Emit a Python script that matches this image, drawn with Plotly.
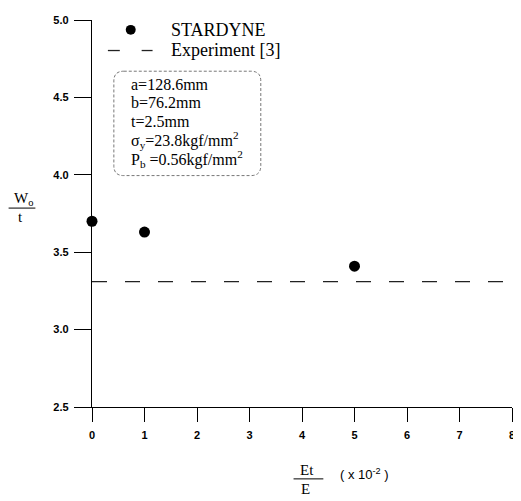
import plotly.graph_objects as go

# ---- data ----
et_e = [0, 1, 5]                 # Et/E (x10^-2)
wo_t = [3.70, 3.63, 3.41]        # STARDYNE W0/t
exp_x = [0, 8]
exp_y = [3.31, 3.31]             # Experiment [3]
x_ticks = [0, 1, 2, 3, 4, 5, 6, 7, 8]
y_ticks = [2.5, 3.0, 3.5, 4.0, 4.5, 5.0]
box_lines = ["a=128.6mm", "b=76.2mm", "t=2.5mm",
             "σ<sub>y</sub>=23.8kgf/mm<sup>2</sup>",
             "P<sub>b</sub> =0.56kgf/mm<sup>2</sup>"]

OFF = 8                      # page body margin
W, H = 521 - OFF, 501 - OFF
L, R, T, B = 92 - OFF, 6, 14 - OFF, 94
PW, PH = W - L - R, H - T - B

def px(x):
    return (x - OFF - L) / PW

def py(y):
    return (OFF + H - B - y) / PH

serif = "Liberation Serif"
sans = "Liberation Sans"

fig = go.Figure()
fig.add_trace(go.Scatter(x=exp_x, y=exp_y, mode="lines",
                         line=dict(color="#222", width=1.3, dash="15px,18px"),
                         showlegend=False, cliponaxis=False))
fig.add_trace(go.Scatter(x=et_e, y=wo_t, mode="markers",
                         marker=dict(color="black", size=11),
                         showlegend=False, cliponaxis=False))

shapes = []
annotations = []

# legend
shapes.append(dict(type="circle", xref="paper", yref="paper",
                   x0=px(126), x1=px(136), y0=py(29), y1=py(19),
                   fillcolor="black", line=dict(color="black", width=0)))
for a, b in [(108, 120), (142, 153)]:
    shapes.append(dict(type="line", xref="paper", yref="paper",
                       x0=px(a), x1=px(b), y0=py(45), y1=py(45),
                       line=dict(color="#222", width=1.3)))
annotations.append(dict(text="STARDYNE", x=px(170), y=py(24), xref="paper", yref="paper",
                        xanchor="left", yanchor="middle", showarrow=False,
                        font=dict(family=serif, size=18, color="black")))
annotations.append(dict(text="Experiment [3]", x=px(170), y=py(44), xref="paper", yref="paper",
                        xanchor="left", yanchor="middle", showarrow=False,
                        font=dict(family=serif, size=18, color="black")))

# rounded box
x0, x1, y0, y1, r = 114, 262, 66, 172, 10
def P(x, y):
    return f"{px(x):.5f},{py(y):.5f}"
path = (f"M {P(x0 + r, y0)} L {P(x1 - r, y0)} Q {P(x1, y0)} {P(x1, y0 + r)} "
        f"L {P(x1, y1 - r)} Q {P(x1, y1)} {P(x1 - r, y1)} "
        f"L {P(x0 + r, y1)} Q {P(x0, y1)} {P(x0, y1 - r)} "
        f"L {P(x0, y0 + r)} Q {P(x0, y0)} {P(x0 + r, y0)} Z")
shapes.append(dict(type="path", xref="paper", yref="paper", path=path,
                   line=dict(color="#777", width=1, dash="3px,2px")))
for i, t in enumerate(box_lines):
    annotations.append(dict(text=t, x=px(129), y=py(79 + i * 19), xref="paper", yref="paper",
                            xanchor="left", yanchor="middle", showarrow=False,
                            font=dict(family=serif, size=16, color="black")))

# y title (fraction)
annotations.append(dict(text="W<sub>o</sub>", x=px(23), y=py(196), xref="paper", yref="paper",
                        xanchor="center", yanchor="middle", showarrow=False,
                        font=dict(family=serif, size=15, color="black")))
shapes.append(dict(type="line", xref="paper", yref="paper",
                   x0=px(8), x1=px(35), y0=py(205), y1=py(205),
                   line=dict(color="black", width=1)))
annotations.append(dict(text="t", x=px(20), y=py(214), xref="paper", yref="paper",
                        xanchor="center", yanchor="middle", showarrow=False,
                        font=dict(family=serif, size=15, color="black")))

# x title (fraction)
annotations.append(dict(text="Et", x=px(309), y=py(471), xref="paper", yref="paper",
                        xanchor="center", yanchor="middle", showarrow=False,
                        font=dict(family=serif, size=15, color="black")))
shapes.append(dict(type="line", xref="paper", yref="paper",
                   x0=px(295), x1=px(325), y0=py(480), y1=py(480),
                   line=dict(color="black", width=1)))
annotations.append(dict(text="E", x=px(307), y=py(490), xref="paper", yref="paper",
                        xanchor="center", yanchor="middle", showarrow=False,
                        font=dict(family=serif, size=15, color="black")))
annotations.append(dict(text="( x 10<sup>-2</sup> )", x=px(340), y=py(475), xref="paper", yref="paper",
                        xanchor="left", yanchor="middle", showarrow=False,
                        font=dict(family=sans, size=13, color="black")))

fig.update_layout(
    width=W, height=H,
    margin=dict(l=L, r=R, t=T, b=B),
    paper_bgcolor="white", plot_bgcolor="white",
    showlegend=False,
    shapes=shapes, annotations=annotations,
    xaxis=dict(range=[0, 8], tickvals=x_ticks, ticktext=[str(v) for v in x_ticks],
               showgrid=False, zeroline=False, showline=True, linecolor="black", linewidth=1.3,
               ticks="outside", ticklen=14, tickwidth=1, tickcolor="black",
               ticklabelstandoff=4, ticklabeloverflow="allow",
               tickfont=dict(family=sans, size=11, color="black", weight="bold")),
    yaxis=dict(range=[2.5, 5.0], tickvals=y_ticks, ticktext=[f"{v:.1f}" for v in y_ticks],
               showgrid=False, zeroline=False, showline=True, linecolor="black", linewidth=1.3,
               ticks="outside", ticklen=17, tickwidth=1, tickcolor="black",
               ticklabelstandoff=3, ticklabeloverflow="allow",
               tickfont=dict(family=sans, size=11, color="black", weight="bold")),
)

fig.write_html("out.html")
